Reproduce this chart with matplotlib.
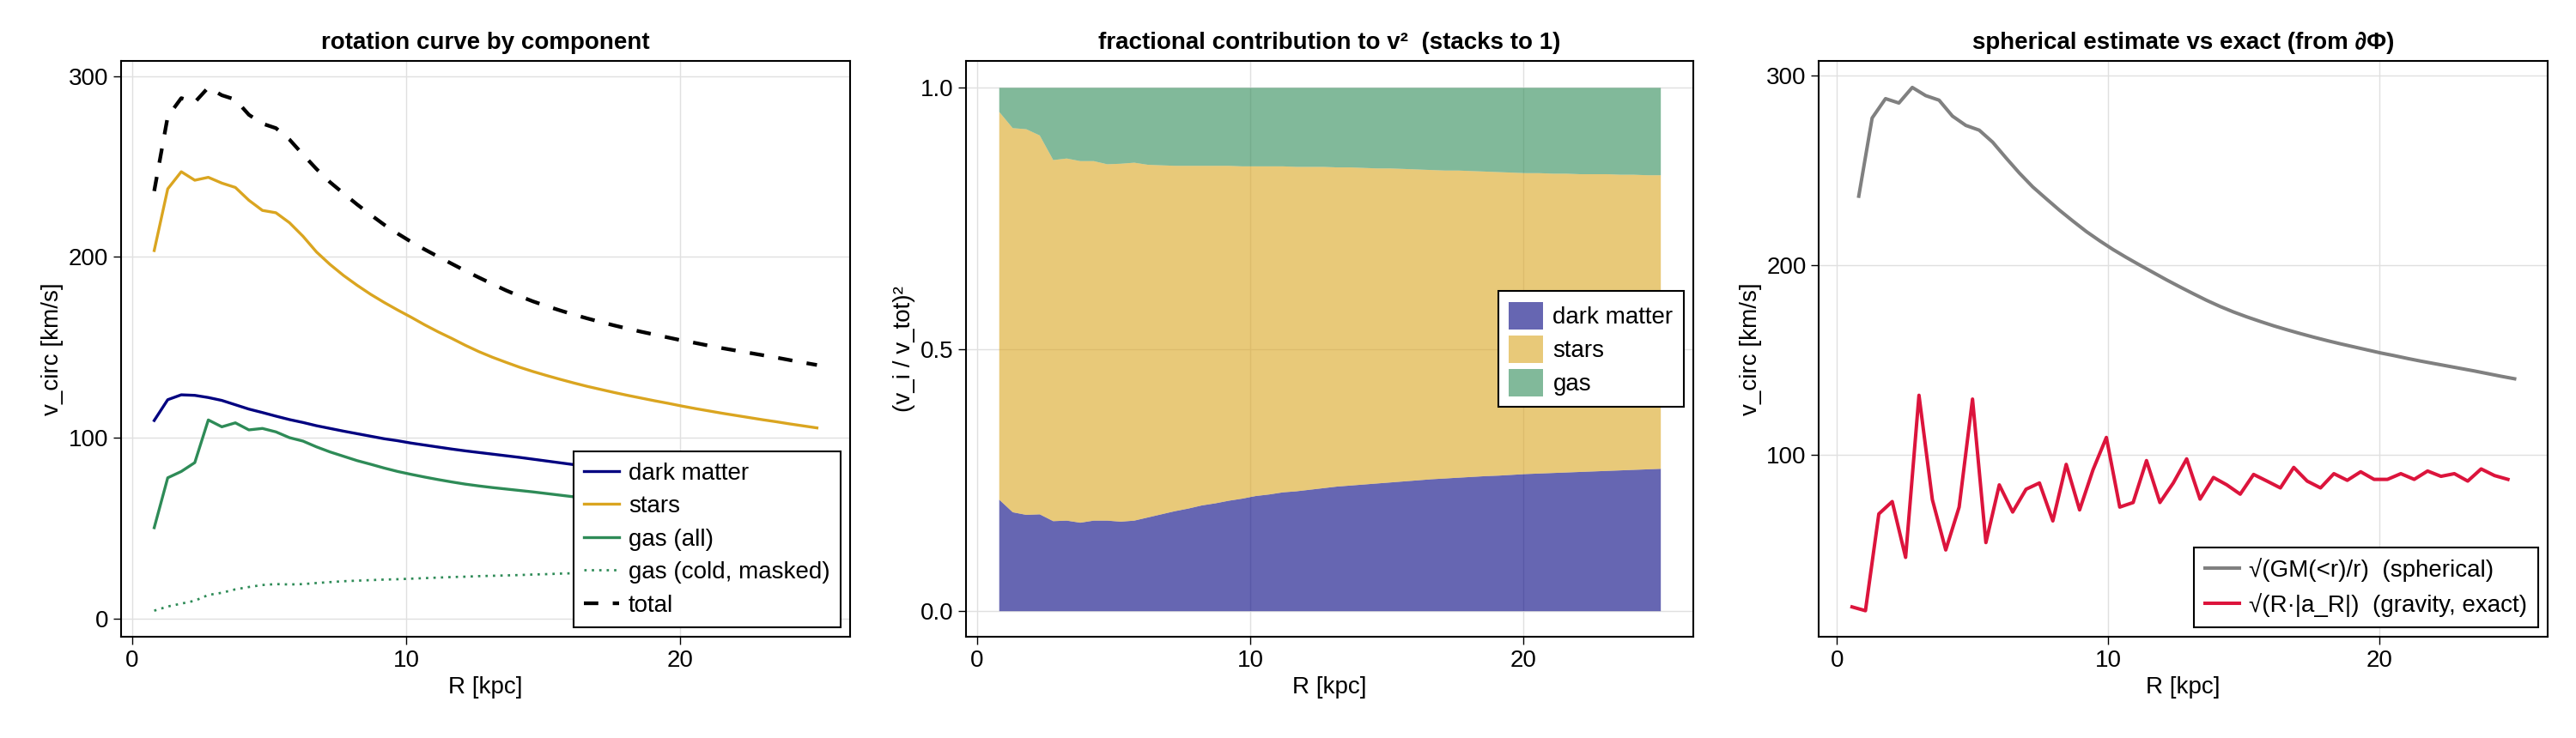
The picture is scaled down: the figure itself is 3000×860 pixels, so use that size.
import numpy as np
import matplotlib
matplotlib.use("Agg")
import matplotlib.pyplot as plt
from matplotlib.patches import Patch

plt.rcParams['font.family'] = ['Liberation Sans', 'DejaVu Sans']

# radial grid (kpc)
R = np.linspace(0.8, 25.0, 50)
R_exact = np.linspace(0.553, 24.753, 50)

v_dm = [109.5, 121.0, 123.7, 123.4, 122.2, 120.6, 118.2, 115.8, 113.9, 111.9,
        110.0, 108.4, 106.6, 105.1, 103.6, 102.2, 100.8, 99.4, 98.3, 97.0,
        95.9, 94.8, 93.7, 92.7, 91.8, 90.9, 90.0, 89.1, 88.1, 87.1,
        86.1, 85.1, 84.2, 83.3, 82.5, 81.7, 80.9, 80.1, 79.3, 78.6,
        78.0, 77.4, 76.8, 76.3, 75.8, 75.3, 74.8, 74.3, 73.8, 73.4]
v_stars = [203.5, 237.6, 247.1, 242.4, 244.0, 240.8, 238.4, 231.3, 225.7, 224.4,
           218.9, 211.4, 202.7, 195.8, 189.7, 184.3, 179.3, 174.8, 170.6, 166.6,
           162.4, 158.5, 154.9, 151.1, 147.6, 144.5, 141.7, 139.0, 136.6, 134.4,
           132.3, 130.3, 128.4, 126.7, 125.0, 123.4, 121.9, 120.4, 119.0, 117.5,
           116.1, 114.8, 113.5, 112.3, 111.1, 109.9, 108.8, 107.6, 106.5, 105.4]
v_gas = [50.2, 77.8, 81.3, 86.2, 109.8, 106.0, 108.2, 104.3, 105.1, 103.2,
         100.0, 98.1, 94.9, 92.1, 89.7, 87.3, 85.3, 83.2, 81.3, 79.7,
         78.2, 76.8, 75.5, 74.3, 73.3, 72.4, 71.6, 70.8, 70.0, 69.1,
         68.2, 67.3, 66.6, 65.9, 65.2, 64.5, 63.9, 63.3, 62.7, 62.1,
         61.6, 61.1, 60.6, 60.2, 59.7, 59.3, 58.8, 58.4, 57.9, 57.5]
v_gas_cold = [4.3, 6.6, 8.2, 9.8, 13.0, 14.2, 16.1, 17.4, 18.5, 19.0,
              18.8, 19.0, 19.6, 20.1, 20.6, 20.9, 21.2, 21.5, 21.7, 22.0,
              22.3, 22.6, 22.9, 23.1, 23.4, 23.6, 23.8, 24.0, 24.3, 24.5,
              24.8, 25.0, 25.2, 25.4, 25.5, 25.7, 25.8, 26.0, 26.1, 26.3,
              26.4, 26.5, 26.7, 26.8, 26.9, 27.0, 27.1, 27.2, 27.3, 27.4]
v_total = [236.4, 277.6, 287.8, 285.5, 293.7, 289.4, 287.0, 278.6, 273.7, 271.2,
           264.9, 256.6, 248.6, 241.3, 235.1, 229.0, 223.3, 217.8, 212.9, 208.3,
           204.1, 200.1, 196.2, 192.3, 188.6, 185.0, 181.5, 178.3, 175.4, 172.8,
           170.4, 168.1, 166.0, 164.0, 162.1, 160.3, 158.6, 157.0, 155.4, 153.8,
           152.4, 150.9, 149.5, 148.2, 146.9, 145.6, 144.3, 142.9, 141.5, 140.2]
v_exact = [20.0, 18.0, 69.0, 75.5, 46.1, 131.5, 76.5, 50.0, 72.6, 129.5,
           53.9, 84.3, 70.0, 82.0, 85.3, 65.3, 95.1, 71.1, 92.2, 109.3,
           72.6, 75.0, 97.1, 75.0, 85.3, 98.0, 76.8, 88.2, 84.3, 79.4,
           89.8, 86.3, 82.7, 93.5, 86.3, 82.7, 90.2, 86.7, 91.2, 87.2,
           87.2, 90.2, 87.2, 91.6, 88.8, 90.2, 86.3, 92.7, 89.2, 87.2]

# fractions (v_i / v_tot)^2
frac_dm = [0.213, 0.189, 0.184, 0.185, 0.172, 0.173, 0.169, 0.173, 0.173, 0.171,
           0.173, 0.179, 0.185, 0.191, 0.196, 0.202, 0.206, 0.211, 0.215, 0.220,
           0.223, 0.227, 0.229, 0.232, 0.235, 0.238, 0.240, 0.242, 0.244, 0.246,
           0.248, 0.250, 0.252, 0.2535, 0.255, 0.2565, 0.258, 0.259, 0.2605, 0.262,
           0.263, 0.264, 0.265, 0.266, 0.267, 0.268, 0.269, 0.270, 0.271, 0.272]
frac_gas = [0.046, 0.077, 0.079, 0.091, 0.138, 0.135, 0.140, 0.140, 0.146, 0.145,
            0.143, 0.147, 0.148, 0.149, 0.149, 0.149, 0.149, 0.149, 0.150, 0.150,
            0.150, 0.150, 0.151, 0.151, 0.151, 0.152, 0.152, 0.153, 0.154, 0.154,
            0.155, 0.156, 0.157, 0.158, 0.158, 0.159, 0.160, 0.161, 0.162, 0.163,
            0.163, 0.164, 0.164, 0.165, 0.165, 0.165, 0.166, 0.166, 0.167, 0.167]

fdm = np.array(frac_dm)
fgas = np.array(frac_gas)
fstars = 1.0 - fdm - fgas

FS = 20
c_dm, c_st, c_gas = 'navy', 'goldenrod', 'seagreen'


def style(ax):
    ax.grid(True, color='#e0e0e0', linewidth=1.0)
    ax.set_axisbelow(True)
    for s in ax.spines.values():
        s.set_linewidth(1.5)
    ax.tick_params(direction='out', length=6.5, width=1.0, labelsize=FS, pad=4)
    ax.set_xticks([0, 10, 20])


def legend(ax, **kw):
    leg = ax.legend(fontsize=FS, frameon=True, fancybox=False, edgecolor='black',
                    framealpha=1, handlelength=1.45, handletextpad=0.4,
                    borderpad=0.45, borderaxespad=0.4, **kw)
    leg.get_frame().set_linewidth(1.5)
    return leg


fig = plt.figure(figsize=(30, 8.6), dpi=100)
ax1 = fig.add_axes([0.047, 0.137, 0.283, 0.780])
ax2 = fig.add_axes([0.3749, 0.137, 0.2825, 0.780])
ax3 = fig.add_axes([0.7061, 0.137, 0.2829, 0.780])

# left: rotation curve by component
ax1.plot(R, v_dm, color=c_dm, lw=2.4, label='dark matter')
ax1.plot(R, v_stars, color=c_st, lw=2.4, label='stars')
ax1.plot(R, v_gas, color=c_gas, lw=2.4, label='gas (all)')
ax1.plot(R, v_gas_cold, color=c_gas, lw=1.95, ls=(0, (1, 2.2)), label='gas (cold, masked)')
ax1.plot(R, v_total, color='black', lw=3.1, ls=(0, (3.9, 3.9)), label='total')
style(ax1)
ax1.set_xlim(-0.41, 26.21)
ax1.set_ylim(-10.2, 308.2)
ax1.set_yticks([0, 100, 200, 300])
ax1.set_xlabel('R [kpc]', fontsize=FS)
ax1.set_ylabel('v_circ [km/s]', fontsize=FS)
ax1.set_title('rotation curve by component', fontsize=FS, fontweight='bold', pad=10)
legend(ax1, loc='lower right', labelspacing=0.45)

# middle: fractional contribution
ax2.fill_between(R, 0, fdm, color=c_dm, alpha=0.6, lw=0)
ax2.fill_between(R, fdm, fdm + fstars, color=c_st, alpha=0.6, lw=0)
ax2.fill_between(R, fdm + fstars, fdm + fstars + fgas, color=c_gas, alpha=0.6, lw=0)
style(ax2)
ax2.set_xlim(-0.41, 26.21)
ax2.set_ylim(-0.05, 1.05)
ax2.set_yticks([0.0, 0.5, 1.0])
ax2.set_yticklabels(['0.0', '0.5', '1.0'])
ax2.set_xlabel('R [kpc]', fontsize=FS)
ax2.set_ylabel('(v_i / v_tot)²', fontsize=FS)
ax2.set_title('fractional contribution to v²  (stacks to 1)', fontsize=FS, fontweight='bold', pad=10)
handles = [Patch(facecolor=c_dm, alpha=0.6, lw=0, label='dark matter'),
           Patch(facecolor=c_st, alpha=0.6, lw=0, label='stars'),
           Patch(facecolor=c_gas, alpha=0.6, lw=0, label='gas')]
legend(ax2, handles=handles, loc='center right', labelspacing=0.25, handleheight=1.4)

# right: spherical vs exact
ax3.plot(R, v_total, color='gray', lw=2.9, label='√(GM(<r)/r)  (spherical)')
ax3.plot(R_exact, v_exact, color='crimson', lw=2.9, label='√(R·|a_R|)  (gravity, exact)')
style(ax3)
ax3.set_xlim(-0.67, 26.22)
ax3.set_ylim(4.2, 307.5)
ax3.set_yticks([100, 200, 300])
ax3.set_xlabel('R [kpc]', fontsize=FS)
ax3.set_ylabel('v_circ [km/s]', fontsize=FS)
ax3.set_title('spherical estimate vs exact (from ∂Φ)', fontsize=FS, fontweight='bold', pad=10)
legend(ax3, loc='lower right', labelspacing=0.45)

fig.savefig('out.png', dpi=100)
